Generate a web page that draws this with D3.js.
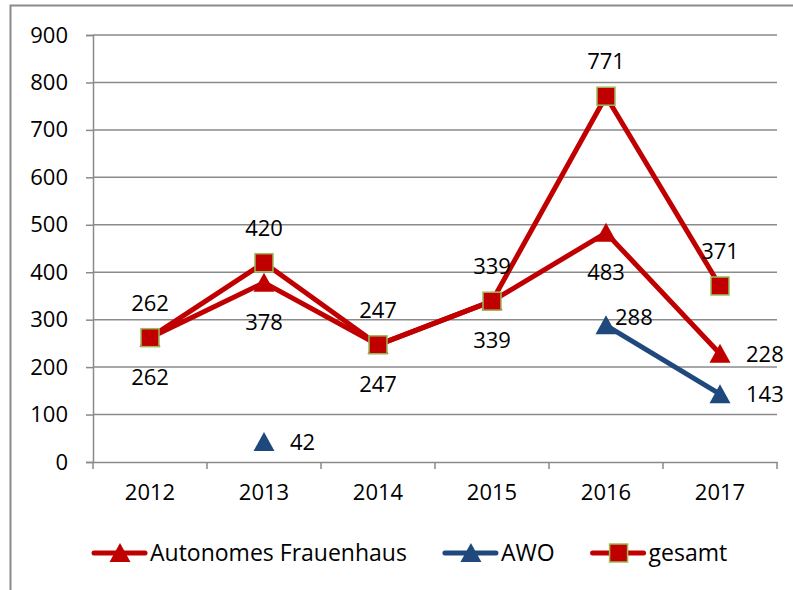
<!DOCTYPE html>
<html>
<head>
<meta charset="utf-8">
<script src="https://cdn.jsdelivr.net/npm/d3@7"></script>
<style>
  body { margin: 0; background: #fff; }
  text { font-family: "Open Sans", sans-serif; fill: #000; }
</style>
</head>
<body>
<div id="chart"></div>
<script>
// DATA
const years = ["2012", "2013", "2014", "2015", "2016", "2017"];
const autonomes = [262, 378, 247, 339, 483, 228];
const awo = [null, 42, null, null, 288, 143];
const gesamt = [262, 420, 247, 339, 771, 371];
const yTicks = [0, 100, 200, 300, 400, 500, 600, 700, 800, 900];
// where each data label sits relative to its point
const autonomesLabelPos = ["below", "below", "below", "below", "below", "right"];
const awoLabelPos = [null, "right", null, null, "upright", "right"];
const gesamtLabelPos = ["above", "above", "above", "above", "above", "above"];

const W = 793, H = 590;
const margin = { top: 35, left: 93, right: 16, bottom: 128 };
const width = W - margin.left - margin.right,
      height = H - margin.top - margin.bottom;

const red = "#c00000", blue = "#1f497d", green = "#9bbb59", gridCol = "#8a8a8a";

const svgRoot = d3.select("#chart").append("svg")
    .attr("width", W).attr("height", H);

// outer chart frame (continues past the window edge)
svgRoot.append("rect")
    .attr("x", 10.5).attr("y", 5.5)
    .attr("width", 820).attr("height", 620)
    .attr("fill", "none").attr("stroke", gridCol).attr("stroke-width", 2);

const svg = svgRoot.append("g")
    .attr("transform", `translate(${margin.left},${margin.top})`);

// scales
const x = d3.scaleBand().domain(years).range([0, width]);
const y = d3.scaleLinear().domain([0, 900]).range([height, 0]);
const cx = d => x(d) + x.bandwidth() / 2;

// grid lines
svg.append("g").selectAll("line").data(yTicks.filter(t => t > 0)).enter()
    .append("line")
    .attr("x1", 0).attr("x2", width)
    .attr("y1", d => y(d)).attr("y2", d => y(d))
    .attr("stroke", gridCol).attr("stroke-width", 1.5);

// y axis
const yAxis = svg.append("g")
    .call(d3.axisLeft(y).tickValues(yTicks).tickSize(7).tickPadding(18));
yAxis.selectAll("text").style("font-size", "22px").attr("fill", "#000");
yAxis.selectAll("line, path").attr("stroke", gridCol).attr("stroke-width", 1.5);

// x axis
const xAxis = svg.append("g")
    .attr("transform", `translate(0,${height})`)
    .call(d3.axisBottom(x).tickSize(0).tickPadding(22));
xAxis.selectAll("text").style("font-size", "22px").attr("fill", "#000");
xAxis.select("path").attr("stroke", gridCol).attr("stroke-width", 1.5);
// tick marks at band boundaries
svg.append("g").selectAll("line").data(years.concat(["end"])).enter()
    .append("line")
    .attr("x1", (d, i) => i * x.step()).attr("x2", (d, i) => i * x.step())
    .attr("y1", height).attr("y2", height + 7)
    .attr("stroke", gridCol).attr("stroke-width", 1.5);

// line generator (skips missing values)
const line = d3.line()
    .defined(d => d.v != null)
    .x(d => cx(d.year))
    .y(d => y(d.v));

// flat-ish triangle like the office marker
const triPath = "M0,-10L10.5,9L-10.5,9Z";

function series(values, color, marker, labelPos) {
    const pts = years.map((yr, i) => ({ year: yr, v: values[i], pos: labelPos[i] }));
    svg.append("path")
        .datum(pts)
        .attr("fill", "none").attr("stroke", color)
        .attr("stroke-width", 5).attr("stroke-linejoin", "round")
        .attr("d", line);
    const valid = pts.filter(d => d.v != null);
    const g = svg.append("g");
    if (marker === "triangle") {
        g.selectAll("path").data(valid).enter().append("path")
            .attr("d", triPath)
            .attr("transform", d => `translate(${cx(d.year)},${y(d.v)})`)
            .attr("fill", color);
    } else {
        g.selectAll("rect").data(valid).enter().append("rect")
            .attr("x", d => cx(d.year) - 9).attr("y", d => y(d.v) - 9)
            .attr("width", 18).attr("height", 18)
            .attr("fill", color).attr("stroke", green).attr("stroke-width", 1.5);
    }
    // data labels
    svg.append("g").selectAll("text").data(valid).enter().append("text")
        .style("font-size", "22px")
        .attr("text-anchor", d => (d.pos === "right" || d.pos === "upright") ? "start" : "middle")
        .attr("x", d => d.pos === "right" ? cx(d.year) + 26
                      : d.pos === "upright" ? cx(d.year) + 9
                      : cx(d.year))
        .attr("y", d => d.pos === "above" ? y(d.v) - 27
                      : d.pos === "below" ? y(d.v) + 47
                      : d.pos === "upright" ? y(d.v)
                      : y(d.v) + 8)
        .text(d => d.v);
}

series(autonomes, red, "triangle", autonomesLabelPos);
series(awo, blue, "triangle", awoLabelPos);
series(gesamt, red, "square", gesamtLabelPos);

// legend
const legendItems = [
    { name: "Autonomes Frauenhaus", color: red, marker: "triangle" },
    { name: "AWO", color: blue, marker: "triangle" },
    { name: "gesamt", color: red, marker: "square" }
];
const legend = svgRoot.append("g").attr("transform", "translate(92,553)");
let lx = 0;
legendItems.forEach(item => {
    const g = legend.append("g").attr("transform", `translate(${lx},0)`);
    g.append("line").attr("x1", 2).attr("x2", 53).attr("y1", 0).attr("y2", 0)
        .attr("stroke", item.color).attr("stroke-width", 5).attr("stroke-linecap", "round");
    if (item.marker === "triangle") {
        g.append("path").attr("d", triPath).attr("transform", "translate(28,0)").attr("fill", item.color);
    } else {
        g.append("rect").attr("x", 19).attr("y", -9).attr("width", 18).attr("height", 18)
            .attr("fill", item.color).attr("stroke", green).attr("stroke-width", 1.5);
    }
    const t = g.append("text").attr("x", 58).attr("y", 8)
        .style("font-size", "23px").text(item.name);
    lx += 58 + t.node().getComputedTextLength() + 36;
});
</script>
</body>
</html>
